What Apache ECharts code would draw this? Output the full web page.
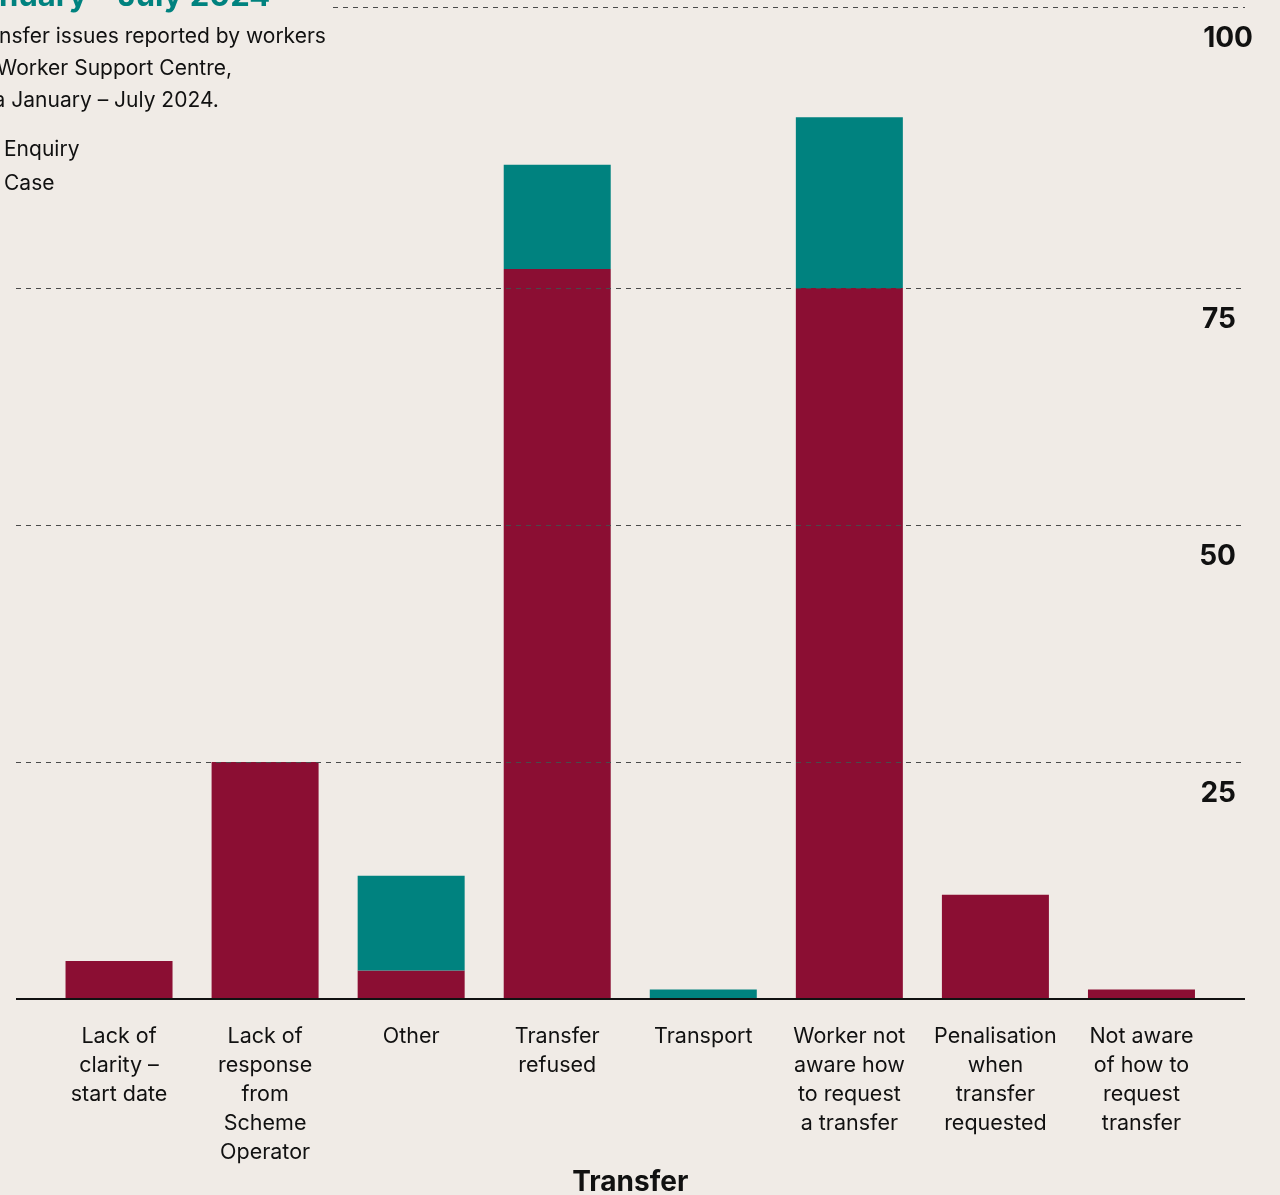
<!DOCTYPE html>
<html>
<head>
<meta charset="utf-8">
<script src="https://cdn.jsdelivr.net/npm/echarts@6/dist/echarts.min.js"></script>
<style>
html,body{margin:0;padding:0;background:#F0EBE6;}
#chart{width:1280px;height:1195px;}
</style>
</head>
<body>
<div id="chart"></div>
<script>
const categories = [
  'Lack of\nclarity –\nstart date',
  'Lack of\nresponse\nfrom\nScheme\nOperator',
  'Other',
  'Transfer\nrefused',
  'Transport',
  'Worker not\naware how\nto request\na transfer',
  'Penalisation\nwhen\ntransfer\nrequested',
  'Not aware\nof how to\nrequest\ntransfer'
];
const enquiryValues = [4, 25, 3, 77, 0, 75, 11, 1];
const caseValues    = [0, 0, 10, 11, 1, 18, 0, 0];
const gridValues = [25, 50, 75];
const topTickLabel = '100';
const titleText = 'January – July 2024';
const subtitleLines = ['Transfer issues reported by workers', 'to the Worker Support Centre,', 'data January – July 2024.'];
const subtitleOffsets = [-33, -66, -38];
const xAxisName = 'Transfer';

const RED = '#8B0E33';
const TEAL = '#00827F';
const FONT = 'Inter, "Noto Sans", sans-serif';

const dashStyle = {color: '#4a4a4a', type: [5, 5], width: 1};
const tickLabelStyle = {color: '#111', fontSize: 28, fontWeight: 'bold', fontFamily: FONT};

const gridLines = gridValues.map(v => [
  {xAxis: 0, yAxis: v, x: 16, lineStyle: dashStyle,
   label: Object.assign({show: true, position: 'insideEndBottom', formatter: String(v), distance: [9, 18]}, tickLabelStyle)},
  {xAxis: 0, yAxis: v, x: 1245}
]);
const baseLine = [
  {xAxis: 0, yAxis: 0, x: 16, lineStyle: {color: '#111', type: 'solid', width: 2}, label: {show: false}},
  {xAxis: 0, yAxis: 0, x: 1245}
];
const topLine = [
  {x: 333, y: 7, lineStyle: dashStyle,
   label: Object.assign({show: true, position: 'insideEndBottom', formatter: topTickLabel, distance: [-8, 18]}, tickLabelStyle)},
  {x: 1245, y: 7}
];

const titles = [
  {text: titleText, left: -42, top: -28,
   textStyle: {color: TEAL, fontSize: 31, fontWeight: 'bold', fontFamily: FONT, lineHeight: 40}}
].concat(subtitleLines.map((t, i) => ({
  text: t, left: subtitleOffsets[i], top: 21 + i * 32,
  padding: 0,
  textStyle: {color: '#111', fontSize: 21, fontWeight: 'normal', fontFamily: FONT, lineHeight: 32}
})));

const chart = echarts.init(document.getElementById('chart'));
chart.setOption({
  backgroundColor: '#F0EBE6',
  animation: false,
  title: titles,
  legend: {
    orient: 'vertical', left: -26, top: 134,
    itemWidth: 20, itemHeight: 20, itemGap: 13,
    icon: 'rect',
    textStyle: {color: '#111', fontSize: 21, fontFamily: FONT},
    data: ['Enquiry', 'Case']
  },
  grid: {left: 46, right: 65.5, top: 51, bottom: 196, outerBoundsMode: 'none', containLabel: false},
  xAxis: {
    type: 'category', data: categories,
    axisLine: {show: false}, axisTick: {show: false},
    axisLabel: {margin: 23, fontSize: 21.5, lineHeight: 29, color: '#111', fontFamily: FONT, interval: 0},
    name: xAxisName, nameLocation: 'middle', nameGap: 170, nameMoveOverlap: false,
    nameTextStyle: {fontSize: 28, fontWeight: 'bold', color: '#111', fontFamily: FONT}
  },
  yAxis: {
    type: 'value', min: 0, max: 100, interval: 25,
    axisLabel: {show: false}, splitLine: {show: false},
    axisLine: {show: false}, axisTick: {show: false}
  },
  series: [
    {name: 'Enquiry', type: 'bar', stack: 'total', data: enquiryValues, barWidth: 107,
     itemStyle: {color: RED}},
    {name: 'Case', type: 'bar', stack: 'total', data: caseValues, barWidth: 107,
     itemStyle: {color: TEAL},
     markLine: {silent: true, symbol: 'none', z: 5,
       data: [...gridLines, baseLine, topLine]}}
  ]
});
</script>
</body>
</html>
